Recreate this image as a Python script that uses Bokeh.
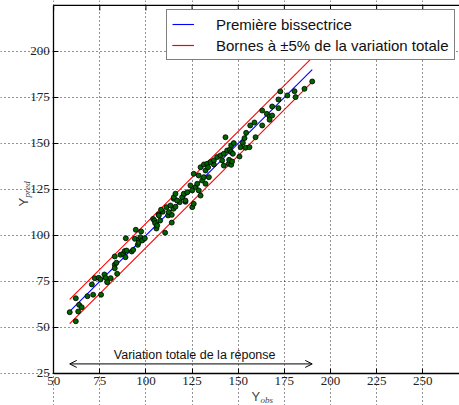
from bokeh.plotting import figure
from bokeh.models import (Range1d, FixedTicker, Label, Arrow, OpenHead,
                          Legend, LegendItem)
from bokeh.embed import file_html
from bokeh.resources import INLINE

# ---- data ----
y_obs = [58.7, 62.0, 62.0, 63.3, 63.8, 65.2, 68.3, 70.7, 71.4, 72.3, 74.4, 75.4, 75.7,
         77.5, 78.2, 79.0, 80.9, 83.1, 83.1, 84.0, 84.4, 83.1, 86.2, 87.7, 88.5, 89.1,
         88.9, 89.5, 92.3, 93.1, 94.0, 94.5, 95.6, 96.3, 96.0, 97.0, 97.4, 98.0, 99.4,
         103.9, 104.6, 105.0, 105.7, 106.1, 106.8, 107.7, 109.1, 110.4, 111.1, 112.0,
         114.0, 114.0, 114.9, 116.0, 118.3, 121.4, 112.4, 113.3, 115.1, 107.0, 108.2,
         115.1, 116.0, 116.9, 119.6, 120.5, 121.4, 122.4, 124.1, 125.1, 125.1, 125.9,
         126.9, 127.8, 128.6, 128.6, 129.6, 129.6, 130.5, 131.4, 131.4, 132.3, 133.2,
         134.1, 125.9, 132.3, 133.7, 136.8,
         135.0, 136.8, 138.6, 140.4, 141.3, 142.2, 142.2, 143.1, 144.0, 144.9, 145.5, 145.1,
         146.2, 146.2, 147.1, 147.6, 150.7, 146.2, 146.7, 151.3, 152.5, 153.4, 154.0, 154.3,
         156.1, 156.5, 158.8, 159.4, 163.0, 163.0, 165.5, 167.0, 167.0, 168.4, 168.4,
         171.8, 171.8, 172.8, 176.6, 180.5, 181.1, 185.9, 190.1]
y_pred = [58.3, 65.9, 53.4, 58.7, 62.3, 61.0, 67.0, 73.4, 67.8, 76.8, 77.0, 76.1, 67.8,
          78.8, 77.0, 74.6, 76.8, 88.6, 84.1, 85.2, 79.2, 82.2, 89.5, 90.1, 91.5, 98.5,
          88.2, 91.8, 91.3, 92.2, 98.2, 103.1, 94.9, 97.8, 96.0, 99.1, 102.2, 97.3, 98.5,
          109.0, 108.1, 106.7, 103.8, 105.4, 111.4, 108.1, 112.9, 101.5, 115.4, 110.9,
          111.2, 107.0, 114.5, 115.6, 118.1, 118.3, 112.7, 116.3, 119.9, 110.9, 114.0,
          120.8, 122.7, 119.0, 120.8, 122.7, 119.0, 123.5, 127.2, 124.5, 115.4, 117.2,
          126.3, 128.1, 132.6, 124.5, 137.1, 121.7, 129.9, 138.6, 131.7, 128.1, 139.0,
          131.7, 133.5, 135.3, 137.1, 138.6,
          139.9, 140.8, 142.6, 143.5, 140.8, 144.4, 138.0, 153.4, 146.2, 139.0, 146.6, 141.1,
          148.9, 145.3, 144.4, 150.2, 142.9, 138.4, 140.2, 148.0, 150.4, 152.9, 147.7, 155.8,
          148.0, 159.8, 161.4, 153.4, 159.8, 167.9, 166.1, 164.7, 162.9, 165.2, 170.1,
          169.2, 173.9, 178.3, 176.1, 178.4, 175.2, 179.7, 183.7]

obs_min, obs_max = 58.7, 190.1     # range of the observed response
band_pct = 5                        # bounds at +/- 5% of the total variation
x_ticks = [50, 75, 100, 125, 150, 175, 200, 225, 250]
y_ticks = [25, 50, 75, 100, 125, 150, 175, 200]
x_lim = (50, 269.9)                 # axes box limits
y_lim = (25, 225)

variation = obs_max - obs_min
delta = band_pct / 100.0 * variation

# ---- figure: the frame fills the canvas, axes are pinned at the box edges ----
p = figure(width=459, height=405, x_range=Range1d(21.2, 269.9), y_range=Range1d(7.6, 227.7),
           output_backend="svg", toolbar_location=None, min_border=0)
p.outline_line_color = None
p.background_fill_color = "white"
p.border_fill_color = "white"

p.xaxis.fixed_location = y_lim[0]
p.xaxis.bounds = x_lim
p.yaxis.fixed_location = x_lim[0]
p.yaxis.bounds = y_lim
p.xgrid.bounds = y_lim
p.ygrid.bounds = x_lim

for ax, tk in ((p.xaxis[0], x_ticks), (p.yaxis[0], y_ticks)):
    ax.ticker = FixedTicker(ticks=tk)
    ax.major_tick_in = 5
    ax.major_tick_out = 0
    ax.minor_tick_line_color = None
    ax.axis_line_width = 1.3
    ax.axis_line_color = "black"
    ax.major_tick_line_color = "black"
    ax.major_label_text_font = "Liberation Serif"
    ax.major_label_text_font_size = "13px"
    ax.major_label_text_color = "#222222"
    ax.major_label_standoff = 4

p.grid.grid_line_color = "black"
p.grid.grid_line_dash = "1 3"
p.grid.grid_line_alpha = 0.85
p.grid.grid_line_width = 1

# top border with inward ticks
p.line(list(x_lim), [y_lim[1], y_lim[1]], line_color="black", line_width=1.3)
tick_len = 5 / 1.84
p.segment(x0=x_ticks, y0=[y_lim[1]] * len(x_ticks), x1=x_ticks,
          y1=[y_lim[1] - tick_len] * len(x_ticks), line_color="black", line_width=1)

# lines
bis = p.line([obs_min, obs_max], [obs_min, obs_max], line_color="#0000ff", line_width=1.1)
up = p.line([obs_min, obs_max], [obs_min + delta, obs_max + delta], line_color="#ff0000", line_width=1.1)
lo = p.line([obs_min, obs_max], [obs_min - delta, obs_max - delta], line_color="#ff0000", line_width=1.1)

# points
p.scatter(y_obs, y_pred, size=5, fill_color="#006400", line_color="black", line_width=0.8)

# arrow + text for total variation
arrow_y = 30.2
p.add_layout(Arrow(x_start=obs_min, x_end=obs_max, y_start=arrow_y, y_end=arrow_y,
                   line_width=1, line_color="black",
                   start=OpenHead(size=7, line_width=1), end=OpenHead(size=7, line_width=1)))
p.add_layout(Label(x=(obs_min + obs_max) / 2 + 2, y=35.0, text="Variation totale de la réponse",
                   text_align="center", text_baseline="alphabetic",
                   text_font="Liberation Sans", text_font_size="12.5px", text_color="#111111"))

# axis labels (Y with subscripts), in canvas px from the bottom-left corner
p.add_layout(Label(x=251, y=9, x_units="screen", y_units="screen", text="Y",
                   text_font="Liberation Sans", text_font_size="13px", text_baseline="alphabetic"))
p.add_layout(Label(x=260, y=6, x_units="screen", y_units="screen", text="obs",
                   text_font="Liberation Serif", text_font_style="italic",
                   text_font_size="9px", text_baseline="alphabetic"))
p.add_layout(Label(x=23, y=199, x_units="screen", y_units="screen", text="Y", angle=90,
                   angle_units="deg", text_font="Liberation Sans", text_font_size="13px",
                   text_baseline="alphabetic"))
p.add_layout(Label(x=26, y=208, x_units="screen", y_units="screen", text="pred", angle=90,
                   angle_units="deg", text_font="Liberation Serif", text_font_style="italic",
                   text_font_size="9px", text_baseline="alphabetic"))

legend = Legend(items=[LegendItem(label="Première bissectrice", renderers=[bis]),
                       LegendItem(label="Bornes à ±5% de la variation totale", renderers=[up, lo])],
                location=(166, 345))
legend.label_text_font = "Liberation Sans"
legend.label_text_font_size = "15px"
legend.label_text_color = "#111111"
legend.border_line_color = "black"
legend.border_line_width = 1
legend.background_fill_alpha = 1
legend.padding = 5
legend.spacing = 3
legend.label_height = 18
legend.glyph_height = 18
legend.glyph_width = 22
legend.label_standoff = 22
legend.margin = 0
p.add_layout(legend)

open("out.html", "w").write(file_html(p, INLINE))
